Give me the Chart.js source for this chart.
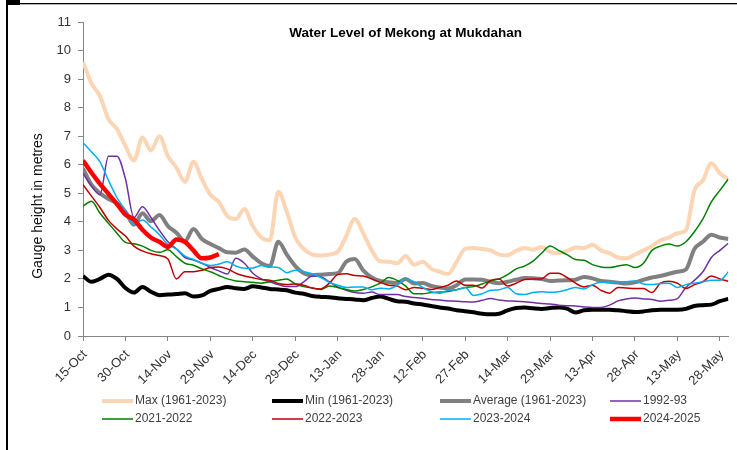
<!DOCTYPE html>
<html>
<head>
<meta charset="utf-8">
<script src="https://cdn.jsdelivr.net/npm/chart.js@4.4.1/dist/chart.umd.min.js"></script>
<style>
  html, body { margin: 0; padding: 0; background: #fff; }
  #wrap { position: relative; width: 737px; height: 450px; }
</style>
</head>
<body>
<div id="wrap"><canvas id="chart" width="737" height="450"></canvas></div>
<script>
// x axis: days after 15-Oct, one reading every 3 days
const tickDates = ['15-Oct', '30-Oct', '14-Nov', '29-Nov', '14-Dec', '29-Dec', '13-Jan', '28-Jan',
  '12-Feb', '27-Feb', '14-Mar', '29-Mar', '13-Apr', '28-Apr', '13-May', '28-May'];
const days = [];
for (let d = 0; d <= 228; d += 3) days.push(d);

const seriesNames = ['Max (1961-2023)', 'Min (1961-2023)', 'Average (1961-2023)', '1992-93',
  '2021-2022', '2022-2023', '2023-2024', '2024-2025'];

const maxLevel = [9.6, 8.85, 8.4, 7.6, 7.25, 6.65, 6.15, 6.95, 6.5, 7.0,
  6.3, 5.9, 5.4, 6.1, 5.5, 4.95, 4.7, 4.2, 4.1, 4.45,
  3.85, 3.45, 3.35, 5.05, 4.35, 3.45, 3.05, 2.85, 2.82, 2.85,
  2.95, 3.5, 4.1, 3.6, 3.0, 2.62, 2.6, 2.55, 2.8, 2.5,
  2.6, 2.36, 2.25, 2.17, 2.6, 3.05, 3.08, 3.05, 3.0, 2.85,
  2.83, 2.98, 3.08, 3.02, 3.12, 2.95, 2.9, 2.98, 3.1, 3.08,
  3.2, 3.0, 2.9, 2.75, 2.72, 2.85, 3.0, 3.15, 3.35, 3.45,
  3.6, 3.7, 5.1, 5.45, 6.05, 5.7, 5.5];

const minLevel = [2.1, 1.9, 2.0, 2.15, 2.0, 1.68, 1.52, 1.72, 1.55, 1.43,
  1.45, 1.47, 1.5, 1.38, 1.42, 1.58, 1.65, 1.72, 1.67, 1.65,
  1.74, 1.7, 1.65, 1.63, 1.6, 1.52, 1.48, 1.4, 1.37, 1.36,
  1.32, 1.3, 1.28, 1.25, 1.33, 1.38, 1.3, 1.22, 1.2, 1.14,
  1.1, 1.05, 1.0, 0.96, 0.9, 0.87, 0.83, 0.78, 0.76, 0.78,
  0.9, 0.98, 1.0, 0.97, 0.95, 0.98, 1.0, 0.96, 0.82, 0.9,
  0.92, 0.92, 0.92, 0.9, 0.87, 0.84, 0.86, 0.9, 0.92, 0.92,
  0.92, 0.95, 1.05, 1.08, 1.1, 1.22, 1.3];

const avgLevel = [5.87, 5.3, 5.0, 4.8, 4.65, 4.35, 3.9, 4.3, 4.02, 4.24,
  3.85, 3.62, 3.32, 3.75, 3.4, 3.22, 3.08, 2.93, 2.92, 3.03,
  2.78, 2.55, 2.45, 3.3, 2.85, 2.45, 2.2, 2.13, 2.15, 2.17,
  2.2, 2.6, 2.7, 2.3, 2.05, 1.93, 1.88, 1.86, 2.0, 1.84,
  1.86, 1.75, 1.7, 1.66, 1.78, 1.98, 1.98, 1.97, 1.9, 1.85,
  1.9, 1.97, 2.03, 2.02, 2.0, 1.93, 1.94, 1.95, 1.97, 2.07,
  2.02, 1.93, 1.9, 1.87, 1.84, 1.88, 1.97, 2.05, 2.1, 2.18,
  2.25, 2.33, 3.05, 3.3, 3.55, 3.45, 3.4];

const level1992 = [5.7, 5.25, 4.95, 6.3, 6.3, 5.5, 4.15, 4.53, 4.15, 3.7,
  3.3, 3.05, 2.75, 2.66, 2.55, 2.4, 2.28, 2.17, 2.72, 2.55,
  2.2, 2.0, 1.9, 1.8, 1.73, 1.73, 1.9, 2.1, 2.08, 1.9,
  1.72, 1.6, 1.52, 1.5, 1.54, 1.45, 1.45, 1.45, 1.38, 1.35,
  1.32, 1.28, 1.26, 1.23, 1.22, 1.2, 1.19, 1.25, 1.31, 1.26,
  1.23, 1.22, 1.2, 1.17, 1.14, 1.12, 1.08, 1.06, 1.05, 1.02,
  1.0, 1.0, 1.08, 1.23, 1.3, 1.33, 1.3, 1.28, 1.22, 1.25,
  1.31, 1.7, 1.95, 2.25, 2.75, 3.0, 3.25];

const level2021 = [4.55, 4.72, 4.3, 3.95, 3.6, 3.28, 3.23, 3.15, 3.0, 2.93,
  3.02, 2.78, 2.55, 2.48, 2.35, 2.25, 2.12, 2.0, 1.93, 1.9,
  1.88, 1.85, 1.9, 1.95, 2.0, 1.82, 1.73, 1.68, 1.63, 1.75,
  1.7, 1.63, 1.58, 1.63, 1.72, 1.85, 2.05, 1.95, 1.75, 1.48,
  1.48, 1.52, 1.54, 1.56, 1.62, 1.7, 1.73, 1.82, 1.93, 2.0,
  2.15, 2.35, 2.45, 2.62, 2.9, 3.15, 3.0, 2.85, 2.68, 2.65,
  2.5, 2.42, 2.4, 2.45, 2.5, 2.4, 2.55, 3.0, 3.15, 3.22,
  3.15, 3.3, 3.65, 4.1, 4.7, 5.1, 5.5];

const level2022 = [5.3, 4.9, 4.5, 4.05, 3.75, 3.5, 3.15, 2.98, 2.88, 2.82,
  2.7, 2.0, 2.25, 2.25, 2.3, 2.4, 2.42, 2.35, 2.2, 2.1,
  2.04, 1.98, 1.95, 1.84, 1.8, 1.82, 1.78, 1.68, 1.65, 1.85,
  2.15, 2.18, 2.12, 2.1, 2.0, 1.88, 1.78, 1.75, 1.62, 1.7,
  1.67, 1.63, 1.7, 1.78, 1.93, 1.78, 1.78, 1.68, 1.95, 2.0,
  1.75, 1.85, 1.98, 2.0, 2.0, 2.2, 2.2, 2.05, 1.85, 1.72,
  1.78, 1.6, 1.5, 1.7, 1.68, 1.66, 1.66, 1.52, 1.85, 1.92,
  1.85, 1.66, 1.8, 1.9, 2.1, 2.0, 1.92];

const level2023 = [6.77, 6.45, 6.1, 5.45, 4.85, 4.4, 3.9, 4.06, 3.82, 3.55,
  3.2, 3.05, 2.8, 2.68, 2.55, 2.47, 2.52, 2.6, 2.45, 2.37,
  2.38, 2.47, 2.42, 2.4, 2.22, 2.3, 2.25, 2.18, 2.05, 1.88,
  1.78, 1.7, 1.72, 1.72, 1.62, 1.67, 1.65, 1.78, 2.0, 1.9,
  1.7, 1.55, 1.5, 1.6, 1.62, 1.7, 1.42, 1.48, 1.6, 1.62,
  1.7, 1.48, 1.45, 1.52, 1.55, 1.53, 1.55, 1.62, 1.7, 1.65,
  1.8, 1.88, 1.88, 1.9, 1.9, 1.93, 1.82, 1.8, 1.84, 1.85,
  1.7, 1.8, 1.85, 1.9, 1.95, 1.95, 2.25];

const level2024 = [6.15, 5.72, 5.33, 4.98, 4.62, 4.25, 4.08, 3.72, 3.45, 3.3,
  3.12, 3.38, 3.3, 3.0, 2.72, 2.75, 2.87];

const FONT = 'Liberation Sans, Arial, Helvetica, sans-serif';
Chart.defaults.font.family = FONT;
Chart.defaults.color = '#333';

function pts(vals) {
  return vals.map((v, i) => ({ x: days[i], y: v }));
}

function line(idx, vals, color, width, order) {
  return {
    label: seriesNames[idx],
    data: pts(vals),
    borderColor: color,
    backgroundColor: color,
    borderWidth: width,
    pointRadius: 0,
    cubicInterpolationMode: 'monotone',
    order: order
  };
}

const frameLines = {
  id: 'frameLines',
  afterDraw(chart) {
    const c = chart.ctx;
    c.save();
    c.fillStyle = '#000';
    c.fillRect(6, 0, 14, 5);
    c.fillRect(6, 0, 2, 450);
    c.fillRect(6, 3, 731, 1.3);
    c.restore();
  }
};

const titles = {
  id: 'titles',
  afterDraw(chart) {
    const c = chart.ctx;
    const a = chart.chartArea;
    c.save();
    c.fillStyle = '#000';
    c.font = 'bold 13.5px ' + FONT;
    c.textAlign = 'center';
    c.textBaseline = 'middle';
    c.fillText('Water Level of Mekong at Mukdahan', (a.left + a.right) / 2, 33);
    c.translate(38, 206);
    c.rotate(-Math.PI / 2);
    c.font = '14px ' + FONT;
    c.fillStyle = '#111';
    c.fillText('Gauge height in metres', 0, 0);
    c.restore();
  }
};

// legend drawn as a fixed 4-column grid, like the original
const gridLegend = {
  id: 'gridLegend',
  afterDraw(chart) {
    const c = chart.ctx;
    const colX = [102, 272, 440, 610];
    const rowY = [401, 419];
    c.save();
    c.font = '12px ' + FONT;
    c.textBaseline = 'middle';
    c.textAlign = 'left';
    chart.data.datasets.forEach((ds, i) => {
      const x = colX[i % 4];
      const y = rowY[Math.floor(i / 4)];
      c.strokeStyle = ds.borderColor;
      c.lineWidth = ds.borderWidth;
      c.beginPath();
      c.moveTo(x, y);
      c.lineTo(x + 31, y);
      c.stroke();
      c.fillStyle = '#404040';
      c.fillText(ds.label, x + 33, y);
    });
    c.restore();
  }
};

new Chart(document.getElementById('chart'), {
  type: 'line',
  data: {
    datasets: [
      line(0, maxLevel, '#fcd5b5', 4, 7),
      line(1, minLevel, '#000000', 4, 6),
      line(2, avgLevel, '#808080', 4, 5),
      line(3, level1992, '#7030a0', 1.5, 4),
      line(4, level2021, '#008000', 1.5, 3),
      line(5, level2022, '#c00000', 1.5, 2),
      line(6, level2023, '#00b0f0', 1.5, 1),
      line(7, level2024, '#ff0000', 4.5, 0)
    ]
  },
  options: {
    responsive: false,
    animation: false,
    devicePixelRatio: 1,
    layout: { padding: { top: 22, right: 7, left: 0, bottom: 0 } },
    plugins: {
      legend: { display: false },
      title: { display: false },
      tooltip: { enabled: false }
    },
    scales: {
      x: {
        type: 'linear',
        min: 0,
        max: 228,
        border: { color: '#868686' },
        grid: { drawOnChartArea: false, color: '#868686', tickLength: 5 },
        ticks: {
          stepSize: 15,
          includeBounds: false,
          autoSkip: false,
          maxRotation: 45,
          minRotation: 45,
          padding: 6,
          labelOffset: 2,
          color: '#333',
          font: { size: 13 },
          callback: v => tickDates[v / 15]
        },
        afterFit: s => { s.height = 114; }
      },
      y: {
        min: 0,
        max: 11,
        border: { color: '#868686' },
        grid: { drawOnChartArea: false, color: '#868686', tickLength: 5 },
        ticks: { stepSize: 1, padding: 7, color: '#333', font: { size: 13 } },
        afterFit: s => { s.width = 83; }
      }
    }
  },
  plugins: [frameLines, titles, gridLegend]
});
</script>
</body>
</html>
